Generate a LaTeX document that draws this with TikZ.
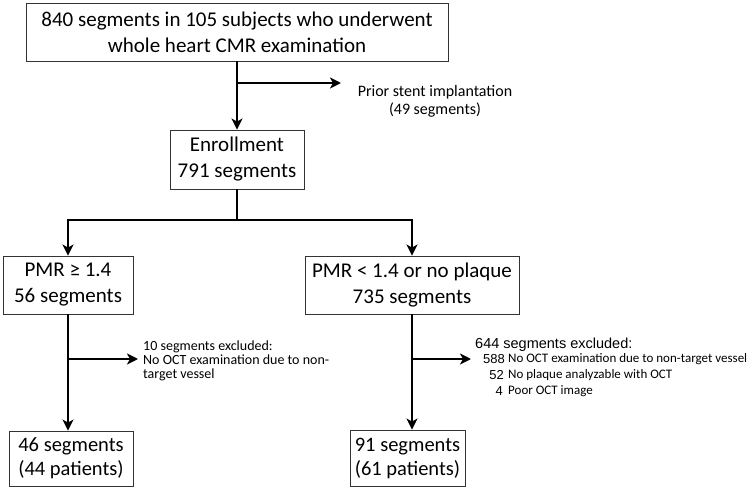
\documentclass[tikz,border=0pt]{standalone}
\usepackage{fontspec}
\setmainfont{Carlito}
\newfontfamily\arialf{Liberation Sans}
\usetikzlibrary{arrows.meta}
\begin{document}
\begin{tikzpicture}[x=1pt,y=-1pt,
  box/.style={draw=black!80,line width=0.9pt,align=center,inner sep=0pt},
  arr/.style={line width=2.7pt,-{Stealth[length=11pt,width=11pt,inset=3pt]}},
  ln/.style={line width=2.7pt},
  big/.style={font=\fontsize{21}{26}\selectfont},
  mid/.style={font=\fontsize{20.5}{24}\selectfont},
  note/.style={font=\fontsize{16}{18}\selectfont,align=center},
  small/.style={font=\fontsize{14}{14.2}\selectfont,align=left,anchor=west,inner sep=0pt},
  num/.style={anchor=east,inner sep=0pt,font=\arialf\fontsize{13}{14}\selectfont},
  item/.style={anchor=west,inner sep=0pt,font=\fontsize{13}{14}\selectfont},
]
\useasboundingbox (0,0) rectangle (748,490);
\node[box,big,minimum width=422pt,minimum height=58pt] (top) at (237,32) {840 segments in 105 subjects who underwent\\whole heart CMR examination};
\node[box,big,minimum width=134pt,minimum height=59pt] (enr) at (237,159.5) {Enrollment\\791 segments};
\node[box,big,minimum width=130pt,minimum height=58pt] (pmrL) at (68,285) {PMR ≥ 1.4\\56 segments};
\node[box,big,minimum width=214pt,minimum height=58pt] (pmrR) at (412,285) {PMR < 1.4 or no plaque\\735 segments};
\node[box,mid,minimum width=124pt,minimum height=55pt] (finL) at (71,458.5) {46 segments\\(44 patients)};
\node[box,mid,minimum width=115pt,minimum height=56pt] (finR) at (407.5,458) {91 segments\\(61 patients)};

\node[note] (prior) at (435,101) {Prior stent implantation\\(49 segments)};

\node[small] (exL) at (143,361) {10 segments excluded:\\No OCT examination due to non-\\target vessel};

\node[anchor=west,inner sep=0pt,font=\arialf\fontsize{14.5}{14}\selectfont] (exR) at (475,345) {644 segments excluded:};
\node[num] (n1) at (505,359) {588};
\node[num] (n2) at (504,375) {52};
\node[num] (n3) at (503,391) {4};
\node[item] (t1) at (508,359) {No OCT examination due to non-target vessel};
\node[item] (t2) at (508,375) {No plaque analyzable with OCT};
\node[item] (t3) at (508,391) {Poor OCT image};

\coordinate (b1) at (237,83);
\coordinate (b1e) at (341,83);
\coordinate (split) at (237,220);
\coordinate (b2) at (68,359);
\coordinate (b2e) at (138,359);
\coordinate (b3) at (412,359);
\coordinate (b3e) at (471,359);

\draw[arr] (top.south) -- (enr.north);
\draw[arr] (b1) -- (b1e);
\draw[ln] (enr.south) -- (split);
\draw[arr] (split) -| (pmrL.north);
\draw[arr] (split) -| (pmrR.north);
\draw[arr] (pmrL.south) -- (pmrL.south |- finL.north);
\draw[arr] (b2) -- (b2e);
\draw[arr] (pmrR.south) -- (pmrR.south |- finR.north);
\draw[arr] (b3) -- (b3e);
\end{tikzpicture}
\end{document}
